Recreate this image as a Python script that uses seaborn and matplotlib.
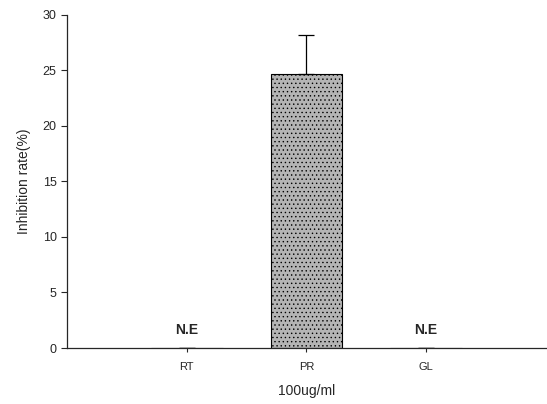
import matplotlib
matplotlib.use('Agg')
import matplotlib.pyplot as plt
import seaborn as sns
import pandas as pd

# data
groups = ['RT', 'PR', 'GL']
inhibition = [0.0, 24.7, 0.0]
err_up = [0.0, 3.5, 0.0]
not_effective = ['N.E', '', 'N.E']

sns.set_style('ticks')
plt.rcParams['font.family'] = ['Liberation Sans', 'DejaVu Sans']
plt.rcParams['hatch.color'] = '#6a6a6a'
plt.rcParams['hatch.linewidth'] = 0.5

df = pd.DataFrame({'group': groups, 'rate': inhibition})

fig = plt.figure(figsize=(5.47, 4.04), dpi=100)
ax = fig.add_axes([0.1225, 0.1386, 0.8755, 0.8244])

sns.barplot(data=df, x='group', y='rate', color='#b4b4b4', width=0.6,
            edgecolor='black', linewidth=0.8, errorbar=None, ax=ax)
for p in ax.patches:
    p.set_hatch('....')
    p.set_edgecolor('black')

ax.errorbar(range(len(groups)), inhibition, yerr=[[0, 0, 0], err_up],
            fmt='none', ecolor='black', elinewidth=0.9, capsize=6, capthick=0.9)

for i, txt in enumerate(not_effective):
    if txt:
        ax.text(i, 1.0, txt, ha='center', va='bottom', fontsize=10, fontweight='bold')

ax.set_xlim(-1, 3)
ax.set_ylim(0, 30)
ax.set_yticks([0, 5, 10, 15, 20, 25, 30])
ax.set_xlabel('100ug/ml', fontsize=10, labelpad=9)
ax.set_ylabel('Inhibition rate(%)', fontsize=10, labelpad=8)
ax.tick_params(axis='both', labelsize=9, length=4, width=0.8)
ax.tick_params(axis='x', labelsize=8, length=3, pad=7)
sns.despine(ax=ax)
for s in ['left', 'bottom']:
    ax.spines[s].set_linewidth(0.9)

fig.savefig('out.png', dpi=100)
